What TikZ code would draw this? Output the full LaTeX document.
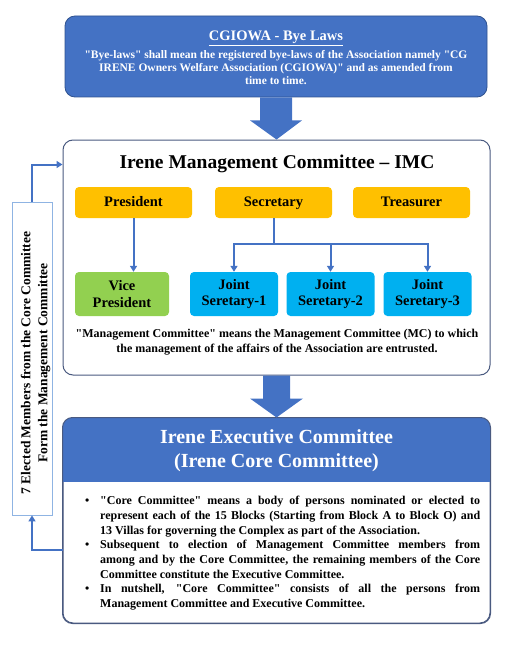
\documentclass[tikz,border=0pt]{standalone}
\usepackage{fontspec}
\setmainfont{Liberation Serif}[Ligatures=TeXOff]
\usetikzlibrary{calc,arrows.meta}
\definecolor{blu}{HTML}{4472C4}
\definecolor{bluedge}{HTML}{2F528F}
\definecolor{frame}{HTML}{4A5A80}
\definecolor{org}{HTML}{FFC000}
\definecolor{grn}{HTML}{92D050}
\definecolor{cyn}{HTML}{00B0F0}
\definecolor{lblue}{HTML}{8FB4E3}
\begin{document}
\begin{tikzpicture}[x=1pt,y=-1pt,
  conn/.style={draw=blu, line width=2pt, -{Triangle[length=6pt,width=7pt]}},
  line/.style={draw=blu, line width=2pt},
  posbox/.style={rounded corners=4pt, inner sep=0pt, align=center,
    font=\fontsize{14.5}{16.5}\selectfont\bfseries},
  orgbox/.style={posbox, fill=org, minimum width=117pt, minimum height=31pt,
    text height=10pt, text depth=3pt},
  subbox/.style={posbox, minimum width=88pt, minimum height=44pt},
  framebox/.style={draw=frame, line width=1pt, rounded corners=10pt, fill=white, inner sep=0pt},
  txt/.style={inner sep=0pt, align=center}
]
\useasboundingbox (0,0) rectangle (514,650);

% top box
\node[draw=bluedge, fill=blu, rounded corners=10pt, line width=0.8pt,
      minimum width=422pt, minimum height=81pt, inner sep=0pt] (top) at (276,56.5) {};
\node[txt, text=white, font=\fontsize{14.5}{16}\selectfont\bfseries] (toptitle) at (276,38) {\underline{CGIOWA - Bye Laws}};
\node[txt, text=white, font=\fontsize{11.5}{13}\selectfont\bfseries] (topdesc) at (276,68)
 {"Bye-laws" shall mean the registered bye-laws of the Association namely "CG\\
  IRENE Owners Welfare Association (CGIOWA)" and as amended from\\ time to time.};

% IMC box
\node[framebox, minimum width=427pt, minimum height=235pt] (imc) at (276.5,257.5) {};
\node[txt, font=\fontsize{19.5}{22}\selectfont\bfseries] (imctitle) at (277,164) {Irene Management Committee – IMC};

\node[orgbox] (pres) at (133.5,202.5) {President};
\node[orgbox] (sec) at (273.5,202.5) {Secretary};
\node[orgbox] (tre) at (411.5,202.5) {Treasurer};
\node[subbox, fill=grn, minimum width=94pt] (vp) at (122,294) {Vice\\President};
\node[subbox, fill=cyn] (js1) at (234,294) {Joint\\Seretary-1};
\node[subbox, fill=cyn] (js2) at (330.5,294) {Joint\\Seretary-2};
\node[subbox, fill=cyn] (js3) at (427.5,294) {Joint\\Seretary-3};

\draw[conn] (pres.south) -- (pres.south |- vp.north);
\draw[line] (sec.south) -- ++(0,26) coordinate (jn);
\draw[conn] (jn) -| (js1.north);
\draw[conn] (jn) -| (js2.north);
\draw[conn] (jn) -| (js3.north);

\node[txt, font=\fontsize{12}{15}\selectfont\bfseries] (imcdef) at (277,342)
 {"Management Committee" means the Management Committee (MC) to which\\
  the management of the affairs of the Association are entrusted.};

% block arrow 1
\fill[blu] ($(top.south)+(-16,0)$) -- ($(top.south)+(16,0)$) -- ($(top.south)+(16,23)$)
  -- ($(top.south)+(26,23)$) -- (imc.north) -- ($(top.south)+(-26,23)$)
  -- ($(top.south)+(-16,23)$) -- cycle;

% Executive box
\node[framebox, minimum width=427pt, minimum height=205pt] (exec) at (276.5,520.5) {};
\begin{scope}
  \clip[rounded corners=10pt] (exec.north west) rectangle (exec.south east);
  \fill[blu] (exec.north west) rectangle ($(exec.north east)+(0,64)$);
\end{scope}
\draw[frame, line width=1pt, rounded corners=10pt] (exec.north west) rectangle (exec.south east);
\node[txt, text=white, font=\fontsize{20}{24}\selectfont\bfseries] (exectitle) at (276.5,451)
 {Irene Executive Committee\\(Irene Core Committee)};

% block arrow 2
\fill[blu] ($(imc.south)+(-13.5,0)$) -- ($(imc.south)+(13.5,0)$) -- ($(imc.south)+(13.5,23)$)
  -- ($(imc.south)+(26.5,23)$) -- (exec.north) -- ($(imc.south)+(-26.5,23)$)
  -- ($(imc.south)+(-13.5,23)$) -- cycle;

\node[inner sep=0pt, anchor=north west, text width=395pt, align=justify,
      font=\fontsize{12}{14.7}\selectfont\bfseries] (bullets) at (85,496)
 {\parskip=0pt
  \hangindent=15pt\hangafter=1\noindent\makebox[15pt][l]{•}"Core Committee" means a body of persons nominated or elected to\linebreak
  represent each of the 15 Blocks (Starting from Block A to Block O) and\linebreak
  13 Villas for governing the Complex as part of the Association.\par
  \hangindent=15pt\hangafter=1\noindent\makebox[15pt][l]{•}Subsequent to election of Management Committee members from\linebreak
  among and by the Core Committee, the remaining members of the Core\linebreak
  Committee constitute the Executive Committee.\par
  \hangindent=15pt\hangafter=1\noindent\makebox[15pt][l]{•}In nutshell, "Core Committee" consists of all the persons from\linebreak
  Management Committee and Executive Committee.\par};

% side box
\node[draw=lblue, line width=0.8pt, minimum width=40pt, minimum height=313pt, inner sep=0pt] (side) at (32,358.5) {};
\node[txt, rotate=90, font=\fontsize{13.5}{17}\selectfont\bfseries] (sidetext) at (35.5,363)
 {7 Elected Members from the Core Committee\\Form the Management Committee};

\draw[conn] (side.north) |- ([yshift=-25pt]imc.north west);
\draw[conn] ([yshift=-132pt]exec.north west) -| (side.south);
\end{tikzpicture}
\end{document}
